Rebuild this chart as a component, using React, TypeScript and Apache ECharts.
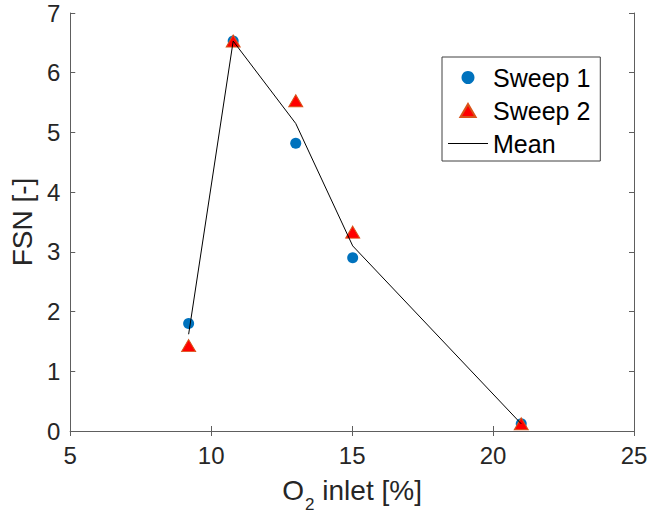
import React, { useEffect, useRef } from "react";
import * as echarts from "echarts";

const o2Inlet = [9.2, 10.78, 13.0, 15.02, 21.0];
const fsnSweep1 = [1.8, 6.53, 4.82, 2.9, 0.12];
const fsnSweep2 = [1.43, 6.53, 5.53, 3.33, 0.12];
const fsnMean = [1.62, 6.53, 5.15, 3.1, 0.12];
const seriesNames = ["Sweep 1", "Sweep 2", "Mean"];

const FONT = "Liberation Sans, Arial, Helvetica, sans-serif";
const AXIS_COLOR = "#5e5e5e";
const TEXT_COLOR = "#262626";

function pairs(xs: number[], ys: number[]) {
  return xs.map((x, i) => [x, ys[i]]);
}

export default function App() {
  const ref = useRef<HTMLDivElement>(null);
  useEffect(() => {
    if (!ref.current) return;
    const chart = echarts.init(ref.current, null, { renderer: "svg" });
    const axisCommon = {
      axisLine: { show: true, lineStyle: { color: AXIS_COLOR, width: 1 } },
      axisTick: { show: true, inside: true, length: 5, lineStyle: { color: AXIS_COLOR } },
      splitLine: { show: false },
    };
    chart.setOption({
      animation: false,
      textStyle: { fontFamily: FONT },
      grid: { left: 67, width: 567, top: 13, height: 420, containLabel: false },
      legend: {
        orient: "vertical",
        left: 442,
        top: 57,
        data: [
          { name: seriesNames[0], icon: "circle" },
          { name: seriesNames[1], icon: "path://M7,0 L14,12 L0,12 Z" },
          { name: seriesNames[2], icon: "path://M0,0 L40,0 L40,1 L0,1 Z" },
        ],
        itemWidth: 40,
        itemHeight: 13,
        itemGap: 8,
        symbolKeepAspect: true,
        padding: [8, 10, 5, 6],
        borderColor: "#404040",
        borderWidth: 1,
        backgroundColor: "#ffffff",
        textStyle: { fontSize: 25, color: "#000", fontFamily: FONT },
      },
      xAxis: [
        {
          type: "value",
          min: 5,
          max: 25,
          interval: 5,
          position: "bottom",
          ...axisCommon,
          axisLabel: { fontSize: 24, color: TEXT_COLOR, margin: 12, fontFamily: FONT },
          name: "{n|O}{s|2}{n| inlet [%]}",
          nameLocation: "middle",
          nameGap: 45,
          nameTextStyle: {
            color: TEXT_COLOR,
            fontFamily: FONT,
            rich: {
              n: { fontSize: 28, lineHeight: 30, verticalAlign: "top", color: TEXT_COLOR, fontFamily: FONT },
              s: { fontSize: 17, lineHeight: 17, verticalAlign: "top", padding: [20, 0, 0, 1], color: TEXT_COLOR, fontFamily: FONT },
            },
          },
        },
        {
          type: "value",
          min: 5,
          max: 25,
          interval: 5,
          position: "top",
          ...axisCommon,
          axisLabel: { show: false },
        },
      ],
      yAxis: [
        {
          type: "value",
          min: 0,
          max: 7,
          interval: 1,
          position: "left",
          ...axisCommon,
          axisLabel: { fontSize: 24, color: TEXT_COLOR, margin: 10, fontFamily: FONT },
          name: "FSN [-]",
          nameLocation: "middle",
          nameGap: 29,
          nameTextStyle: { fontSize: 28, color: TEXT_COLOR, fontFamily: FONT },
        },
        {
          type: "value",
          min: 0,
          max: 7,
          interval: 1,
          position: "right",
          ...axisCommon,
          axisLabel: { show: false },
        },
      ],
      series: [
        {
          name: seriesNames[0],
          type: "scatter",
          symbol: "circle",
          symbolSize: 11,
          itemStyle: { color: "#0072BD", opacity: 1 },
          data: pairs(o2Inlet, fsnSweep1),
          z: 2,
        },
        {
          name: seriesNames[1],
          type: "scatter",
          symbol: "triangle",
          symbolSize: [14, 12],
          itemStyle: { color: "#FF0000", borderColor: "#D95319", borderWidth: 1, opacity: 1 },
          data: pairs(o2Inlet, fsnSweep2),
          z: 3,
        },
        {
          name: seriesNames[2],
          type: "line",
          symbol: "none",
          showSymbol: false,
          lineStyle: { color: "#000000", width: 1 },
          itemStyle: { color: "#000000" },
          data: pairs(o2Inlet, fsnMean),
          z: 4,
        },
      ],
    });
    return () => chart.dispose();
  }, []);
  return <div ref={ref} style={{ width: 651, height: 518, position: "absolute", left: 0, top: 0 }} />;
}
